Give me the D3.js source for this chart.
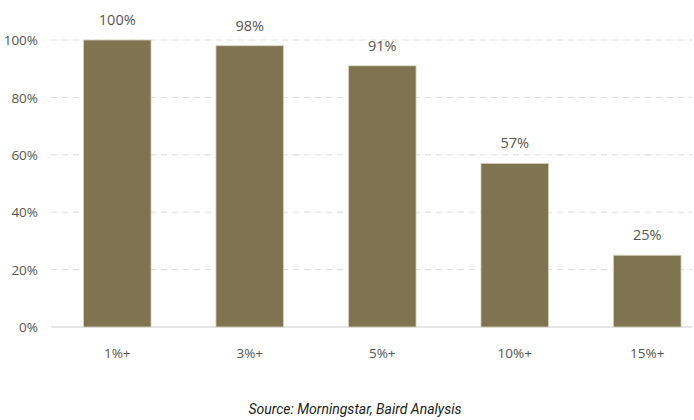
<!DOCTYPE html>
<html><head><meta charset="utf-8">
<script src="https://cdn.jsdelivr.net/npm/d3@7"></script>
<style>body{margin:0;background:#fff;}svg{display:block;}</style>
</head><body>
<svg id="chart" width="694" height="420"></svg>
<script>
const categories = ["1%+", "3%+", "5%+", "10%+", "15%+"];
const values = [100, 98, 91, 57, 25];
const yTicks = [0, 20, 40, 60, 80, 100];
const sourceText = "Source: Morningstar, Baird Analysis";

const svg = d3.select("#chart");
const font = "'Open Sans', sans-serif";
const x = d3.scaleBand().domain(categories).range([51, 713.5]).paddingInner(0.49).paddingOuter(0.245);
const y = d3.scaleLinear().domain([0, 100]).range([327, 40]);

const grid = svg.append("g");
grid.selectAll("line").data(yTicks.filter(d => d > 0)).join("line")
  .attr("x1", 51).attr("x2", 692)
  .attr("y1", d => y(d)).attr("y2", d => y(d))
  .attr("stroke", "#dcdcdc").attr("stroke-width", 1).attr("stroke-dasharray", "6,5");
grid.append("line").attr("x1", 51).attr("x2", 692).attr("y1", y(0)).attr("y2", y(0))
  .attr("stroke", "#dcdcdc").attr("stroke-width", 1.5);

const yAxis = d3.axisLeft(y).tickValues(yTicks).tickFormat(d => d + "%").tickSize(0).tickPadding(0);
const ya = svg.append("g").attr("transform", "translate(38,0)").call(yAxis);
ya.select(".domain").remove();
ya.selectAll("text").attr("font-family", font).attr("font-size", 13.5).attr("fill", "#555").attr("dy", "0.35em");

svg.append("g").selectAll("rect").data(values).join("rect")
  .attr("x", (d, i) => x(categories[i]))
  .attr("width", x.bandwidth())
  .attr("y", d => y(d))
  .attr("height", d => y(0) - y(d))
  .attr("fill", "#7f7350").attr("stroke", "#d8d2bf").attr("stroke-width", 0.8);

svg.append("g").selectAll("text").data(values).join("text")
  .attr("x", (d, i) => x(categories[i]) + x.bandwidth() / 2)
  .attr("y", d => y(d) - 15)
  .attr("text-anchor", "middle")
  .attr("font-family", font).attr("font-size", 14.5).attr("fill", "#555")
  .text(d => d + "%");

const xAxis = d3.axisBottom(x).tickSize(0).tickPadding(0);
const xa = svg.append("g").attr("transform", "translate(0,353)").call(xAxis);
xa.select(".domain").remove();
xa.selectAll("text").attr("font-family", font).attr("font-size", 13.5).attr("fill", "#555").attr("dy", "0.35em");

svg.append("text").attr("x", 355).attr("y", 414).attr("text-anchor", "middle")
  .attr("font-family", "Roboto, sans-serif").attr("font-style", "italic").attr("font-size", 14).attr("fill", "#222")
  .text(sourceText);
</script>
</body></html>
